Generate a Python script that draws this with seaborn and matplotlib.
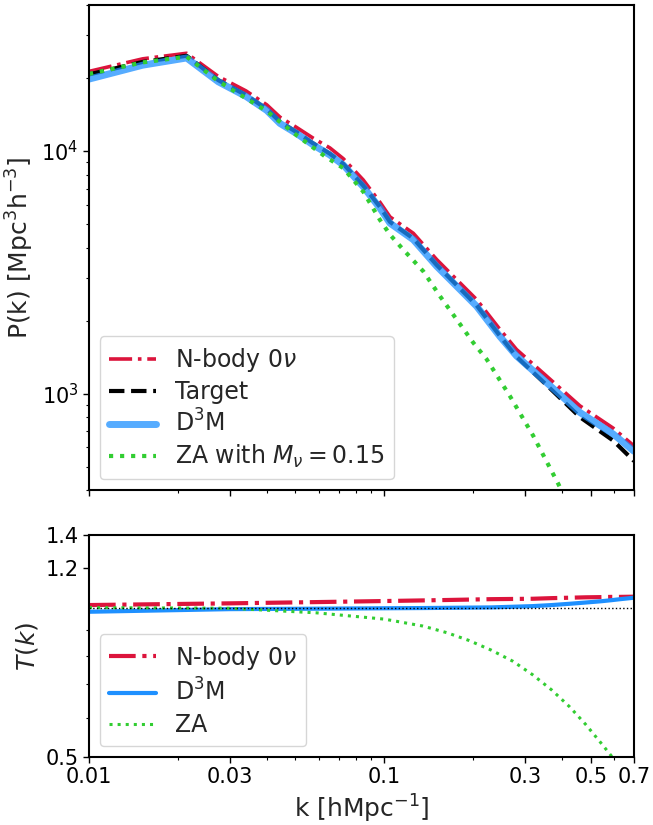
import numpy as np
import pandas as pd
import matplotlib
matplotlib.use("Agg")
import matplotlib.pyplot as plt
import seaborn as sns
from matplotlib.ticker import NullFormatter

# --- power spectrum (top panel) ---
k_pk = [0.010, 0.0152, 0.0214, 0.0274, 0.0340, 0.0400, 0.0443, 0.0505, 0.0574,
        0.0654, 0.0726, 0.0848, 0.0966, 0.1045, 0.1253, 0.1503, 0.1757, 0.2053,
        0.246, 0.280, 0.354, 0.459, 0.595, 0.70]
pk_nbody = [21300, 24000, 25300, 20300, 17700, 15500, 13800, 12500, 11300,
            10300, 9300, 7600, 6150, 5350, 4580, 3570, 2950, 2440,
            1840, 1520, 1180, 890, 720, 608]
pk_target = [20700, 23300, 24700, 19600, 17000, 14900, 13200, 11950, 10750,
             9750, 8850, 7200, 5880, 5100, 4360, 3390, 2800, 2310,
             1730, 1420, 1085, 800, 640, 527]
pk_d3m = [19800, 22600, 24200, 19300, 16800, 14700, 13000, 11800, 10600,
          9630, 8760, 7130, 5810, 5040, 4310, 3350, 2770, 2290,
          1720, 1430, 1110, 836, 681, 578]

k_za = [0.010, 0.0152, 0.0214, 0.0274, 0.040, 0.0505, 0.063, 0.0726, 0.0848,
        0.0966, 0.1045, 0.1159, 0.1355, 0.1543, 0.1757, 0.200, 0.222, 0.266,
        0.319, 0.388, 0.45]
pk_za = [20800, 23200, 24500, 19400, 14600, 11600, 9500, 8500, 6800,
         5200, 4520, 3920, 3190, 2520, 2020, 1620, 1384, 977,
         670, 424, 290]

# --- transfer function (bottom panel) ---
k_tk = [0.010, 0.030, 0.059, 0.100, 0.135, 0.163, 0.193, 0.230, 0.272,
        0.318, 0.369, 0.424, 0.481, 0.542, 0.586, 0.62, 0.70]
tk_nbody = [1.012, 1.020, 1.026, 1.031, 1.034, 1.036, 1.038, 1.040, 1.041,
            1.042, 1.045, 1.047, 1.049, 1.050, 1.051, 1.051, 1.052]
tk_d3m = [0.981, 0.993, 0.995, 0.997, 0.998, 0.999, 1.000, 1.001, 1.004,
          1.007, 1.012, 1.018, 1.024, 1.030, 1.035, 1.039, 1.047]
tk_za = [1.000, 0.997, 0.976, 0.948, 0.918, 0.890, 0.859, 0.821, 0.780,
         0.732, 0.682, 0.631, 0.581, 0.533, 0.503, 0.48, 0.45]
k_one = [0.01, 0.7]
tk_one = [1.0, 1.0]

sns.set_theme(style="ticks")
plt.rcParams['font.family'] = ['DejaVu Sans']
plt.rcParams['mathtext.fontset'] = 'dejavusans'
plt.rcParams['axes.edgecolor'] = 'black'
plt.rcParams['axes.linewidth'] = 1.5
plt.rcParams['xtick.color'] = 'black'
plt.rcParams['ytick.color'] = 'black'

fig = plt.figure(figsize=(6.53, 8.25), dpi=100)
ax1 = fig.add_axes([0.1363, 0.406, 0.8346, 0.5879])
ax2 = fig.add_axes([0.1363, 0.0824, 0.8346, 0.269])

red = 'crimson'
blue = 'dodgerblue'
green = 'limegreen'

# top panel
sns.lineplot(x=k_pk, y=pk_nbody, ax=ax1, color=red, lw=2.6, ls='-.', label=r'N-body 0$\nu$')
sns.lineplot(x=k_pk, y=pk_target, ax=ax1, color='black', lw=3, ls='--', label='Target')
sns.lineplot(x=k_pk, y=pk_d3m, ax=ax1, color=blue, lw=5, alpha=0.75, label=r'D$^3$M')
sns.lineplot(x=k_za, y=pk_za, ax=ax1, color=green, lw=3, ls=':', label=r'ZA with $M_\nu=0.15$')
ax1.set_xscale('log')
ax1.set_yscale('log')
ax1.set_xlim(0.01, 0.7)
ax1.set_ylim(400, 40000)
ax1.set_ylabel(r'P(k) [Mpc$^3$h$^{-3}$]', fontsize=18)
ax1.set_xticks([0.01, 0.03, 0.1, 0.3, 0.5, 0.7])
ax1.tick_params(labelbottom=False, labelsize=15)
ax1.legend(loc='lower left', fontsize=17, frameon=True, labelspacing=0.25,
           borderaxespad=0.45)

# bottom panel
sns.lineplot(x=k_tk, y=tk_nbody, ax=ax2, color=red, lw=3, ls='-.', label=r'N-body 0$\nu$')
sns.lineplot(x=k_tk, y=tk_d3m, ax=ax2, color=blue, lw=3, label=r'D$^3$M')
sns.lineplot(x=k_tk, y=tk_za, ax=ax2, color=green, lw=2.2, ls=':', label='ZA')
sns.lineplot(x=k_one, y=tk_one, ax=ax2, color='black', lw=1, ls=':')
ax2.set_xscale('log')
ax2.set_yscale('log')
ax2.set_xlim(0.01, 0.7)
ax2.set_ylim(0.5, 1.4)
ax2.set_xticks([0.01, 0.03, 0.1, 0.3, 0.5, 0.7])
ax2.set_xticklabels(['0.01', '0.03', '0.1', '0.3', '0.5', '0.7'])
ax2.set_yticks([0.5, 1.2, 1.4])
ax2.set_yticklabels(['0.5', '1.2', '1.4'])
ax2.xaxis.set_minor_formatter(NullFormatter())
ax2.yaxis.set_minor_formatter(NullFormatter())
ax2.tick_params(labelsize=15)
ax2.set_xlabel(r'k [hMpc$^{-1}$]', fontsize=18)
ax2.set_ylabel(r'$T(k)$', fontsize=18)
ax2.legend(loc='lower left', fontsize=17, frameon=True, labelspacing=0.3,
           borderaxespad=0.45)

for ax in (ax1, ax2):
    ax.tick_params(which='major', length=4, width=1)
    ax.tick_params(which='minor', length=2, width=0.8)

fig.savefig('out.png', dpi=100)
